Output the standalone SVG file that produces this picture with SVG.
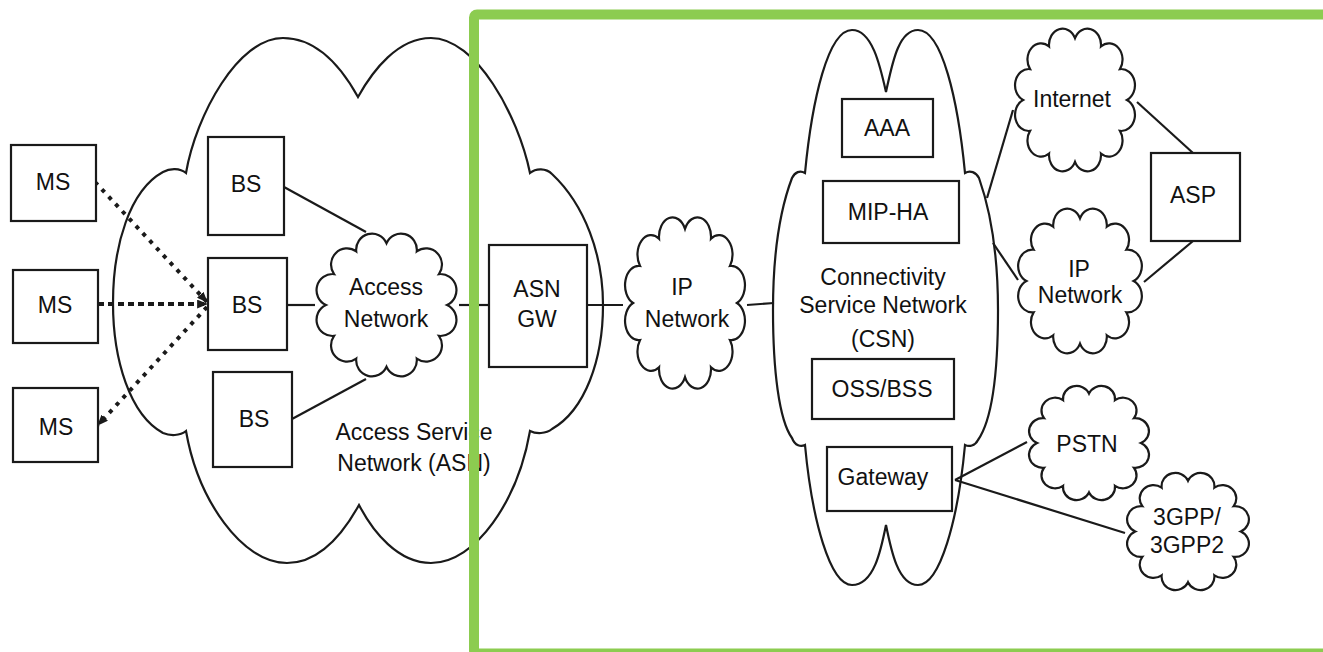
<svg xmlns="http://www.w3.org/2000/svg" xmlns:xlink="http://www.w3.org/1999/xlink" width="1323" height="652" viewBox="0 0 1323 652">
<style>
.box{fill:#fff;stroke:#1a1a1a;stroke-width:2.2}
.big{fill:#fff;stroke:#1a1a1a;stroke-width:2.2}
.cloud{fill:#fff;stroke:#1a1a1a;stroke-width:2.2;vector-effect:non-scaling-stroke}
.lbl{font-family:"Liberation Sans",Arial,sans-serif;font-size:23px;fill:#111;text-anchor:middle}
.ln{stroke:#1a1a1a;stroke-width:2.2;fill:none}
.dot{stroke:#1a1a1a;stroke-width:4;stroke-dasharray:4 6;fill:none}
.frame{fill:none;stroke:#8ccc50;stroke-width:10}
</style>
<defs>
<path id="cl" class="cloud" d="M50,8.8 A10.8,10.8 0 0 1 70.6,14.32 A10.8,10.8 0 0 1 85.68,29.4 A10.8,10.8 0 0 1 91.2,50 A10.8,10.8 0 0 1 85.68,70.6 A10.8,10.8 0 0 1 70.6,85.68 A10.8,10.8 0 0 1 50,91.2 A10.8,10.8 0 0 1 29.4,85.68 A10.8,10.8 0 0 1 14.32,70.6 A10.8,10.8 0 0 1 8.8,50 A10.8,10.8 0 0 1 14.32,29.4 A10.8,10.8 0 0 1 29.4,14.32 A10.8,10.8 0 0 1 50,8.8 Z"/>
<marker id="arr" viewBox="0 0 10 8" refX="9" refY="4" markerWidth="11" markerHeight="9" markerUnits="userSpaceOnUse" orient="auto"><path d="M0,0 L10,4 L0,8 z" fill="#1a1a1a"/></marker>
</defs>

<g id="asn">
<path class="big" d="M186,173 C196,115 238,38 283,38 C318,38 343,70 358,97 C373,70 398,38 431,38 C476,38 518,115 530,173 C536,168 546,168 552,174 C585,205 603,255 603,305 C603,360 585,410 552,429 C546,434 536,434 530,431 C518,500 476,563 431,563 C398,563 373,532 359,505 C344,532 320,563 287,563 C242,563 198,500 186,431 C180,436 170,436 163,433 C130,415 113,360 113,303 C113,245 130,190 163,172 C170,168 180,168 186,173 Z"/>
<text class="lbl" x="414" y="440">Access Service</text>
<text class="lbl" x="414" y="471">Network (ASN)</text>
</g>

<g id="csn">
<path class="big" d="M805,173 C812,100 828,30 852,30 C872,30 880,65 886,92 C892,65 898,30 918,30 C942,30 958,100 965,173 C970,170 976,172 979,178 C992,215 998,260 998,310 C998,370 992,420 978,440 C975,446 969,447 965,445 C958,520 940,585 918,585 C898,585 891,550 886,525 C881,550 874,585 852,585 C830,585 812,520 805,445 C801,447 795,446 792,438 C779,420 773,370 773,310 C773,260 778,215 792,178 C795,172 800,170 805,173 Z"/>
<text class="lbl" x="883" y="285">Connectivity</text>
<text class="lbl" x="883" y="313">Service Network</text>
<text class="lbl" x="883" y="347">(CSN)</text>
</g>

<g id="connectors">
<line class="dot" x1="95" y1="182" x2="207" y2="302" marker-end="url(#arr)"/>
<line class="dot" x1="98" y1="304" x2="207" y2="304" marker-end="url(#arr)" style="stroke-dasharray:6 4"/>
<line class="dot" x1="207" y1="307" x2="98" y2="425" marker-end="url(#arr)"/>
<line class="ln" x1="284" y1="187" x2="366" y2="232"/>
<line class="ln" x1="287" y1="305" x2="315" y2="305"/>
<line class="ln" x1="292" y1="419" x2="366" y2="379"/>
<line class="ln" x1="459" y1="305" x2="489" y2="305"/>
<line class="ln" x1="587" y1="305" x2="623" y2="305"/>
<line class="ln" x1="747" y1="305" x2="774" y2="303"/>
<line class="ln" x1="987" y1="198" x2="1013" y2="110"/>
<line class="ln" x1="993" y1="243" x2="1018" y2="280"/>
<line class="ln" x1="1137" y1="102" x2="1193" y2="153"/>
<line class="ln" x1="1144" y1="282" x2="1193" y2="241"/>
<line class="ln" x1="955" y1="480" x2="1027" y2="442"/>
<line class="ln" x1="955" y1="480" x2="1125" y2="533"/>
</g>

<g id="ms1"><rect class="box" x="11" y="145" width="85" height="76"/><text class="lbl" x="53" y="190">MS</text></g>
<g id="ms2"><rect class="box" x="13" y="270" width="85" height="73"/><text class="lbl" x="55" y="313">MS</text></g>
<g id="ms3"><rect class="box" x="13" y="388" width="85" height="74"/><text class="lbl" x="56" y="435">MS</text></g>
<g id="bs1"><rect class="box" x="208" y="137" width="76" height="98"/><text class="lbl" x="246" y="192">BS</text></g>
<g id="bs2"><rect class="box" x="208" y="258" width="79" height="92"/><text class="lbl" x="247" y="313">BS</text></g>
<g id="bs3"><rect class="box" x="213" y="372" width="79" height="95"/><text class="lbl" x="254" y="427">BS</text></g>

<g id="access-network"><use xlink:href="#cl" href="#cl" transform="translate(313,230) scale(1.47,1.5)"/><text class="lbl" x="386" y="295">Access</text><text class="lbl" x="386" y="327">Network</text></g>
<g id="asn-gw"><rect class="box" x="489" y="245" width="98" height="122"/><text class="lbl" x="537" y="297">ASN</text><text class="lbl" x="537" y="327">GW</text></g>
<g id="ip-network-1"><use xlink:href="#cl" href="#cl" transform="translate(622,213) scale(1.26,1.8)"/><text class="lbl" x="682" y="295">IP</text><text class="lbl" x="687" y="327">Network</text></g>

<g id="aaa"><rect class="box" x="842" y="99" width="91" height="58"/><text class="lbl" x="887" y="136">AAA</text></g>
<g id="mip-ha"><rect class="box" x="823" y="181" width="136" height="62"/><text class="lbl" x="888" y="220">MIP-HA</text></g>
<g id="oss-bss"><rect class="box" x="812" y="359" width="142" height="60"/><text class="lbl" x="882" y="397">OSS/BSS</text></g>
<g id="gateway"><rect class="box" x="827" y="447" width="125" height="64"/><text class="lbl" x="883" y="485">Gateway</text></g>

<g id="internet"><use xlink:href="#cl" href="#cl" transform="translate(1012,25) scale(1.26,1.5)"/><text class="lbl" x="1072" y="107">Internet</text></g>
<g id="asp"><rect class="box" x="1151" y="153" width="89" height="88"/><text class="lbl" x="1193" y="203">ASP</text></g>
<g id="ip-network-2"><use xlink:href="#cl" href="#cl" transform="translate(1015,205) scale(1.3,1.52)"/><text class="lbl" x="1079" y="277">IP</text><text class="lbl" x="1080" y="303">Network</text></g>
<g id="pstn"><use xlink:href="#cl" href="#cl" transform="translate(1026,383) scale(1.26,1.2)"/><text class="lbl" x="1087" y="452">PSTN</text></g>
<g id="3gpp"><use xlink:href="#cl" href="#cl" transform="translate(1124,470) scale(1.28,1.23)"/><text class="lbl" x="1187" y="525">3GPP/</text><text class="lbl" x="1187" y="553">3GPP2</text></g>

<rect id="highlight" class="frame" x="474" y="14.5" width="900" height="639" rx="3"/>
</svg>
